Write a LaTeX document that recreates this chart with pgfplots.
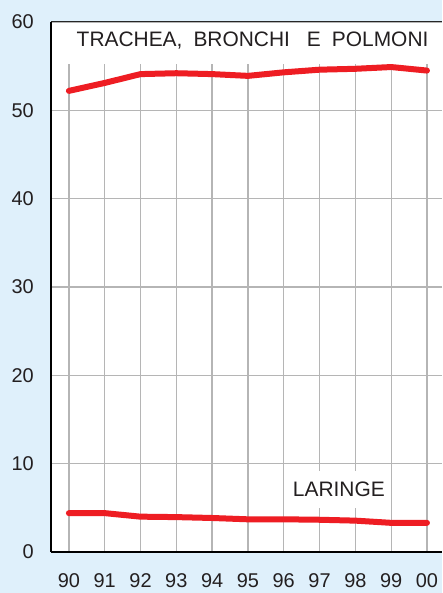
\documentclass[border=0pt]{standalone}
\usepackage{fontspec}
\setmainfont{Liberation Sans}
\usepackage{pgfplots}
\pgfplotsset{compat=1.18}
\definecolor{bg}{HTML}{DFF0FB}
\definecolor{rl}{HTML}{EE1D23}
\definecolor{gr}{HTML}{B5B5B5}
\definecolor{tx}{HTML}{231F20}
\begin{document}
\begin{tikzpicture}[x=1bp,y=1bp]
\fill[bg] (0,0) rectangle (442,593);
\begin{axis}[at={(51bp,41bp)}, anchor=south west, scale only axis,
  width=391bp, height=530bp,
  xmin=-0.5, xmax=10.42, ymin=0, ymax=60,
  axis background/.style={fill=white},
  xtick={0,...,10}, xticklabels={90,91,92,93,94,95,96,97,98,99,00},
  ytick={0,10,...,60},
  grid=major, major grid style={gr, line width=1.3bp},
  major tick length=0pt,
  axis x line*=bottom, axis y line*=left,
  axis line style={black, line width=1.3bp, -},
  tick label style={font=\fontsize{20}{22}\selectfont, text=tx, inner sep=0pt},
  /pgf/number format/assume math mode=true,
  yticklabel style={anchor=east, xshift=-17bp},
  xticklabel style={anchor=north, yshift=-21bp},
]
\fill[white] (axis cs:-0.45,55.3) rectangle (axis cs:10.42,59.9);
\node[font=\fontsize{21}{23}\selectfont, text=tx] at (axis cs:5.13,57.9)
  {TRACHEA,\hspace{11bp}BRONCHI\hspace{17bp}E\hspace{11bp}POLMONI};
\node[fill=white, font=\fontsize{21}{23}\selectfont, text=tx, inner xsep=4bp, minimum height=37bp] at (axis cs:7.54,7.1) {LARINGE};
\addplot[rl, line width=6bp, line cap=round, line join=round] coordinates {
(0,52.2) (1,53.1) (2,54.1) (3,54.2) (4,54.1) (5,53.9) (6,54.3) (7,54.6) (8,54.7) (9,54.9) (10,54.5)};
\addplot[rl, line width=6bp, line cap=round, line join=round] coordinates {
(0,4.4) (1,4.4) (2,4.0) (3,3.95) (4,3.85) (5,3.7) (6,3.7) (7,3.65) (8,3.55) (9,3.3) (10,3.3)};
\draw[black!85, line width=1bp] (rel axis cs:0,1) -- (rel axis cs:1,1);
\end{axis}
\end{tikzpicture}
\end{document}
